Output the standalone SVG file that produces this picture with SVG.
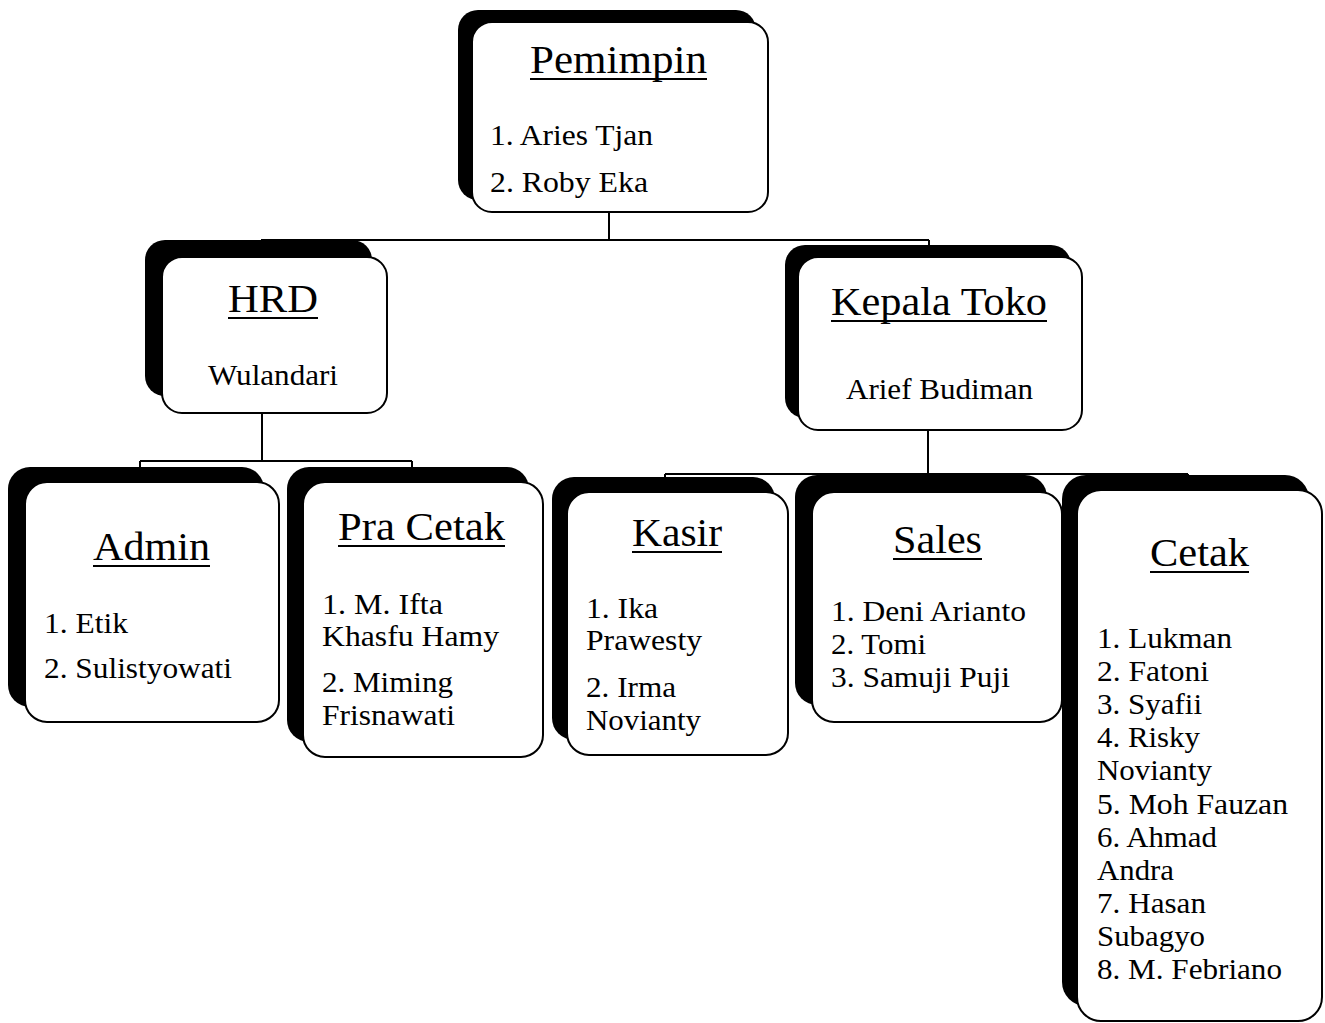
<svg xmlns="http://www.w3.org/2000/svg" width="1325" height="1023" viewBox="0 0 1325 1023">
<style>
.sh{fill:#000}
.bx{fill:#fff;stroke:#000;stroke-width:2}
.cn{fill:none;stroke:#000;stroke-width:2}
.ul{stroke:#000;stroke-width:2}
.t{font-family:"Liberation Serif","Times New Roman",serif;font-size:41px;fill:#000}
.b{font-family:"Liberation Serif","Times New Roman",serif;font-size:30px;fill:#000}
</style>
<rect width="1325" height="1023" fill="#fff"/>
<g id="connectors">
<path class="cn" d="M609 212V240M261 240H929M261 240V248M929 240V254"/>
<path class="cn" d="M262 413V461M140 461H412M140 461V468M412 461V468"/>
<path class="cn" d="M928 430V474M665 474H1188M665 474V482M1188 474V481"/>
</g>
<g id="pemimpin">
<rect class="sh" x="458" y="10" width="298" height="190" rx="20"/>
<rect class="bx" x="472" y="22" width="296" height="190" rx="20"/>
<text class="t" x="530" y="73" textLength="177" lengthAdjust="spacingAndGlyphs">Pemimpin</text>
<line class="ul" x1="530" y1="79" x2="707" y2="79"/>
<text class="b" x="490" y="145" textLength="163" lengthAdjust="spacingAndGlyphs">1. Aries Tjan</text>
<text class="b" x="490" y="192" textLength="158" lengthAdjust="spacingAndGlyphs">2. Roby Eka</text>
</g>
<g id="hrd">
<rect class="sh" x="145" y="240" width="227" height="156" rx="20"/>
<rect class="bx" x="162" y="257" width="225" height="156" rx="20"/>
<text class="t" x="228" y="312" textLength="90" lengthAdjust="spacingAndGlyphs">HRD</text>
<line class="ul" x1="228" y1="318" x2="318" y2="318"/>
<text class="b" x="208" y="385" textLength="130" lengthAdjust="spacingAndGlyphs">Wulandari</text>
</g>
<g id="kepala-toko">
<rect class="sh" x="785" y="245" width="286" height="173" rx="20"/>
<rect class="bx" x="798" y="257" width="284" height="173" rx="20"/>
<text class="t" x="831" y="315" textLength="216" lengthAdjust="spacingAndGlyphs">Kepala Toko</text>
<line class="ul" x1="831" y1="321" x2="1047" y2="321"/>
<text class="b" x="846" y="399" textLength="187" lengthAdjust="spacingAndGlyphs">Arief Budiman</text>
</g>
<g id="admin">
<rect class="sh" x="8" y="467" width="256" height="240" rx="22"/>
<rect class="bx" x="25" y="482" width="254" height="240" rx="22"/>
<text class="t" x="93" y="560" textLength="117" lengthAdjust="spacingAndGlyphs">Admin</text>
<line class="ul" x1="93" y1="566" x2="210" y2="566"/>
<text class="b" x="44" y="633" textLength="84" lengthAdjust="spacingAndGlyphs">1. Etik</text>
<text class="b" x="44" y="678" textLength="188" lengthAdjust="spacingAndGlyphs">2. Sulistyowati</text>
</g>
<g id="pra-cetak">
<rect class="sh" x="287" y="467" width="242" height="275" rx="22"/>
<rect class="bx" x="303" y="482" width="240" height="275" rx="22"/>
<text class="t" x="338" y="540" textLength="167" lengthAdjust="spacingAndGlyphs">Pra Cetak</text>
<line class="ul" x1="338" y1="546" x2="505" y2="546"/>
<text class="b" x="322" y="614" textLength="121" lengthAdjust="spacingAndGlyphs">1. M. Ifta</text>
<text class="b" x="322" y="646" textLength="177" lengthAdjust="spacingAndGlyphs">Khasfu Hamy</text>
<text class="b" x="322" y="692" textLength="131" lengthAdjust="spacingAndGlyphs">2. Miming</text>
<text class="b" x="322" y="725" textLength="133" lengthAdjust="spacingAndGlyphs">Frisnawati</text>
</g>
<g id="kasir">
<rect class="sh" x="552" y="477" width="223" height="263" rx="22"/>
<rect class="bx" x="567" y="492" width="221" height="263" rx="22"/>
<text class="t" x="632" y="546" textLength="90" lengthAdjust="spacingAndGlyphs">Kasir</text>
<line class="ul" x1="632" y1="552" x2="722" y2="552"/>
<text class="b" x="586" y="618" textLength="72" lengthAdjust="spacingAndGlyphs">1. Ika</text>
<text class="b" x="586" y="650" textLength="116" lengthAdjust="spacingAndGlyphs">Prawesty</text>
<text class="b" x="586" y="697" textLength="90" lengthAdjust="spacingAndGlyphs">2. Irma</text>
<text class="b" x="586" y="730" textLength="115" lengthAdjust="spacingAndGlyphs">Novianty</text>
</g>
<g id="sales">
<rect class="sh" x="795" y="475" width="252" height="230" rx="22"/>
<rect class="bx" x="812" y="492" width="250" height="230" rx="22"/>
<text class="t" x="893" y="553" textLength="89" lengthAdjust="spacingAndGlyphs">Sales</text>
<line class="ul" x1="893" y1="559" x2="982" y2="559"/>
<text class="b" x="831" y="621" textLength="195" lengthAdjust="spacingAndGlyphs">1. Deni Arianto</text>
<text class="b" x="831" y="654" textLength="95" lengthAdjust="spacingAndGlyphs">2. Tomi</text>
<text class="b" x="831" y="687" textLength="179" lengthAdjust="spacingAndGlyphs">3. Samuji Puji</text>
</g>
<g id="cetak">
<rect class="sh" x="1062" y="475" width="247" height="531" rx="24"/>
<rect class="bx" x="1077" y="490" width="245" height="531" rx="24"/>
<text class="t" x="1150" y="566" textLength="99" lengthAdjust="spacingAndGlyphs">Cetak</text>
<line class="ul" x1="1150" y1="572" x2="1249" y2="572"/>
<text class="b" x="1097" y="648" textLength="135" lengthAdjust="spacingAndGlyphs">1. Lukman</text>
<text class="b" x="1097" y="681" textLength="112" lengthAdjust="spacingAndGlyphs">2. Fatoni</text>
<text class="b" x="1097" y="714" textLength="105" lengthAdjust="spacingAndGlyphs">3. Syafii</text>
<text class="b" x="1097" y="747" textLength="103" lengthAdjust="spacingAndGlyphs">4. Risky</text>
<text class="b" x="1097" y="780" textLength="115" lengthAdjust="spacingAndGlyphs">Novianty</text>
<text class="b" x="1097" y="814" textLength="191" lengthAdjust="spacingAndGlyphs">5. Moh Fauzan</text>
<text class="b" x="1097" y="847" textLength="120" lengthAdjust="spacingAndGlyphs">6. Ahmad</text>
<text class="b" x="1097" y="880" textLength="77" lengthAdjust="spacingAndGlyphs">Andra</text>
<text class="b" x="1097" y="913" textLength="109" lengthAdjust="spacingAndGlyphs">7. Hasan</text>
<text class="b" x="1097" y="946" textLength="108" lengthAdjust="spacingAndGlyphs">Subagyo</text>
<text class="b" x="1097" y="979" textLength="185" lengthAdjust="spacingAndGlyphs">8. M. Febriano</text>
</g>
</svg>
